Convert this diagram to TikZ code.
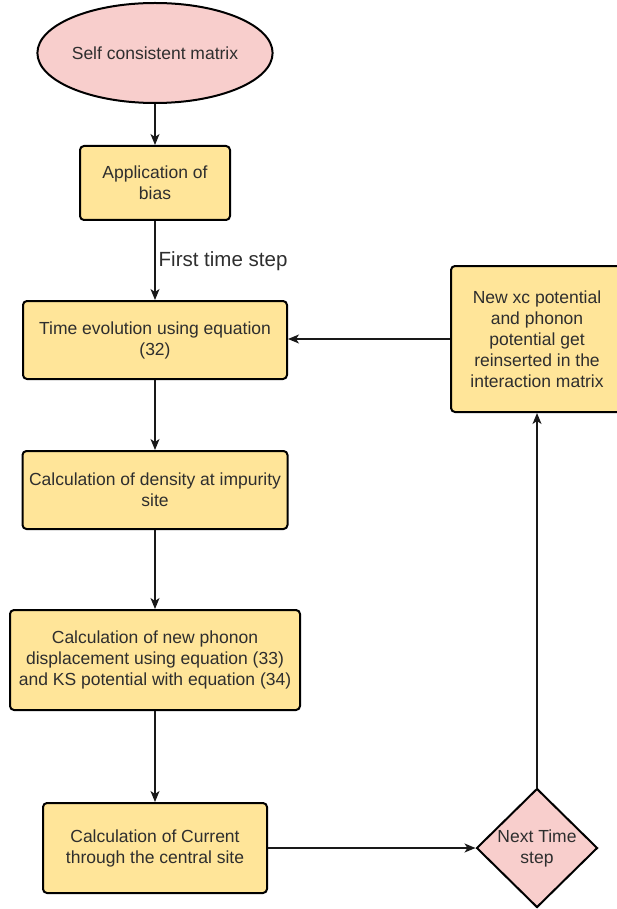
\documentclass[tikz,border=0pt]{standalone}
\usepackage{fontspec}
\setmainfont{Liberation Sans}
\usetikzlibrary{shapes.geometric,arrows.meta}
\definecolor{boxfill}{HTML}{FFE599}
\definecolor{pinkfill}{HTML}{F8CECC}
\definecolor{txtcol}{HTML}{2E2E2E}
\begin{document}
\begin{tikzpicture}[x=1pt,y=-1pt,
  stepbox/.style={draw=black, line width=2pt, fill=boxfill, rounded corners=4pt,
    align=center, inner sep=0pt, text=txtcol,
    font=\fontsize{17.5}{21}\selectfont},
  conn/.style={draw=black!90, line width=1.4pt,
    -{Stealth[length=11pt,width=9pt,inset=3pt]}},
]
\useasboundingbox (0,0) rectangle (616,909);

\node[ellipse, draw=black, line width=2pt, fill=pinkfill, minimum width=230pt,
  minimum height=100pt, inner sep=0pt, text=txtcol,
  font=\fontsize{17.5}{21}\selectfont] (ell) at (155,53) {Self consistent matrix};

\node[stepbox, minimum width=150pt, minimum height=74pt] (bias) at (155,183)
  {Application of\\bias};

\node[stepbox, minimum width=264pt, minimum height=78pt] (time) at (155,340)
  {Time evolution using equation\\(32)};

\node[stepbox, minimum width=265pt, minimum height=78pt] (dens) at (155,490)
  {Calculation of density at impurity\\site};

\node[stepbox, minimum width=290pt, minimum height=100pt] (phon) at (155,660)
  {Calculation of new phonon\\displacement using equation (33)\\and KS potential with equation (34)};

\node[stepbox, minimum width=224pt, minimum height=90pt] (curr) at (155,848)
  {Calculation of Current\\through the central site};

\node[diamond, draw=black, line width=2pt, fill=pinkfill, minimum width=121pt,
  minimum height=119pt, inner sep=0pt] (dia) at (537,848) {};
\node[align=center, inner sep=0pt, text=txtcol,
  font=\fontsize{17.5}{21}\selectfont] (diatext) at (dia.center)
  {Next Time\\step};

\node[stepbox, minimum width=172pt, minimum height=146pt] (newxc) at (537,339)
  {New xc potential\\and phonon\\potential get\\reinserted in the\\interaction matrix};

\draw[conn] (ell) -- (bias);
\draw[conn] (bias) -- node[right, xshift=1pt, yshift=-1pt, text=txtcol,
  font=\fontsize{20.5}{24}\selectfont, inner sep=2pt] (lbl) {First time step} (time);
\draw[conn] (time) -- (dens);
\draw[conn] (dens) -- (phon);
\draw[conn] (phon) -- (curr);
\draw[conn] (curr) -- (dia);
\draw[conn] (dia) -- (newxc);
\draw[conn] (newxc.west) -- (newxc.west -| time.east);
\end{tikzpicture}
\end{document}
